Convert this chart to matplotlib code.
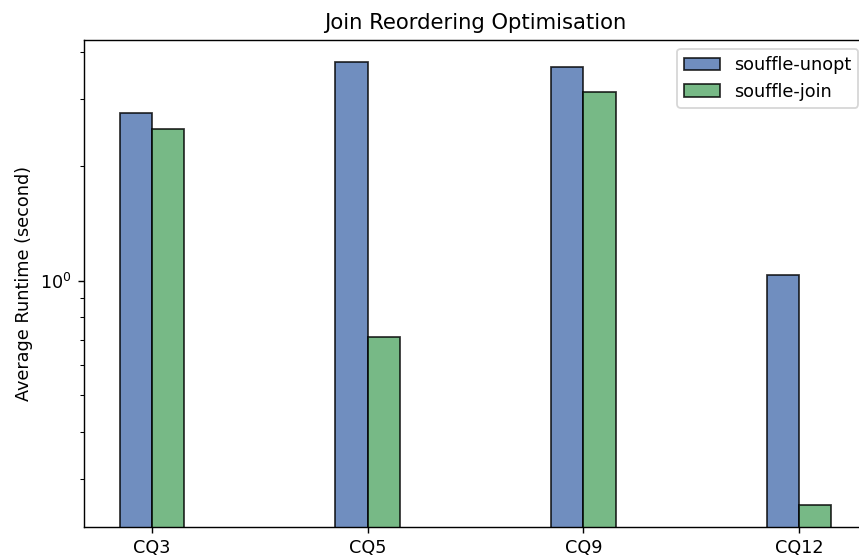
import matplotlib.pyplot as plt
import matplotlib.ticker as mticker
import numpy as np

queries = ["CQ3", "CQ5", "CQ9", "CQ12"]
souffle_unopt = [2.76, 3.76, 3.65, 1.035]
souffle_join = [2.51, 0.71, 3.14, 0.257]

width = 0.15
x = np.arange(len(queries))

dpi = 127
fig = plt.figure(figsize=(859 / dpi, 559 / dpi), dpi=dpi)
ax = fig.add_axes([84 / 859, 32 / 559, 783 / 859, 487 / 559])

ax.bar(x - width / 2, souffle_unopt, width, label="souffle-unopt",
       color="#4c72b0", edgecolor="black", alpha=0.8)
ax.bar(x + width / 2, souffle_join, width, label="souffle-join",
       color="#55a868", edgecolor="black", alpha=0.8)

ax.set_yscale("log")
ax.yaxis.set_minor_formatter(mticker.NullFormatter())
ax.set_xticks(x)
ax.set_xticklabels(queries)
ax.set_ylabel("Average Runtime (second)")
ax.set_title("Join Reordering Optimisation")
ax.legend(loc="upper right")

fig.savefig("out.png", dpi=dpi)
